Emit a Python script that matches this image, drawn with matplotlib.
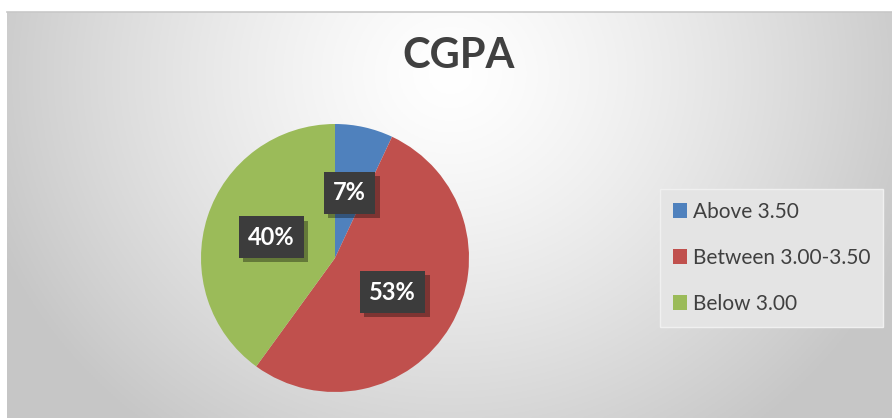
import numpy as np
import matplotlib
matplotlib.use("Agg")
import matplotlib.pyplot as plt
import matplotlib.patheffects as pe

categories = ["Above 3.50", "Between 3.00-3.50", "Below 3.00"]
values = [7, 53, 40]
colors = ["#4F81BD", "#C0504D", "#9BBB59"]
title = "CGPA"

plt.rcParams['font.family'] = ['Lato', 'DejaVu Sans']

W, H = 892, 418
fig = plt.figure(figsize=(W / 100, H / 100), dpi=100)
fig.patch.set_facecolor("white")

# background with radial gradient
bg = fig.add_axes([7 / W, 0, (W - 7) / W, (H - 12) / H])
ny, nx = 200, 400
yy, xx = np.mgrid[0:ny, 0:nx]
cx, cy = nx * 0.5, ny * 0.15
d = np.sqrt(((xx - cx) / (nx * 0.55)) ** 2 + ((yy - cy) / (ny * 1.1)) ** 2)
d = np.clip(d, 0, 1)
val = 1.0 - 0.22 * d ** 1.3
img = np.dstack([val, val, val])
bg.imshow(img, aspect="auto", extent=[0, 1, 0, 1], origin="upper")
bg.set_xlim(0, 1)
bg.set_ylim(0, 1)
bg.axis("off")
fig.add_artist(plt.Line2D([7 / W, 1], [(H - 12) / H, (H - 12) / H], color="#c8c8c8", lw=1.2))

fig.text(459 / W, 1 - 56 / H, title, ha="center", va="center", fontsize=30,
         fontweight="bold", color="#404040")

# pie
cxp, cyp, r = 335, 258, 134
ax = fig.add_axes([(cxp - r) / W, (H - cyp - r) / H, 2 * r / W, 2 * r / H])
wedges, texts, autotexts = ax.pie(values, colors=colors, startangle=90, counterclock=False,
                                  autopct=lambda p: f"{p:.0f}%", pctdistance=0.5,
                                  wedgeprops=dict(linewidth=0))
ax.set_xlim(-1, 1)
ax.set_ylim(-1, 1)
ax.set_aspect("equal")
ax.axis("off")
for t in autotexts:
    t.set_color("white")
    t.set_fontsize(17)
    t.set_fontweight("bold")
    t.set_bbox(dict(boxstyle="square,pad=0.4", facecolor="#3c3c3c", edgecolor="none"))
    t.get_bbox_patch().set_path_effects([pe.SimplePatchShadow(offset=(3, -3), shadow_rgbFace="black", alpha=0.35), pe.Normal()])

leg = fig.legend(wedges, categories, loc="center left",
                 bbox_to_anchor=(660 / W, 1 - 258 / H), fontsize=15,
                 frameon=True, fancybox=False, handlelength=0.7, handleheight=0.7,
                 handletextpad=0.3, labelspacing=1.25, borderpad=0.6, borderaxespad=0)
leg.get_frame().set_facecolor("#e4e4e4")
leg.get_frame().set_edgecolor("#f0f0f0")
leg.get_frame().set_alpha(1)
for t in leg.get_texts():
    t.set_color("#404040")

fig.savefig("out.png", dpi=100)
